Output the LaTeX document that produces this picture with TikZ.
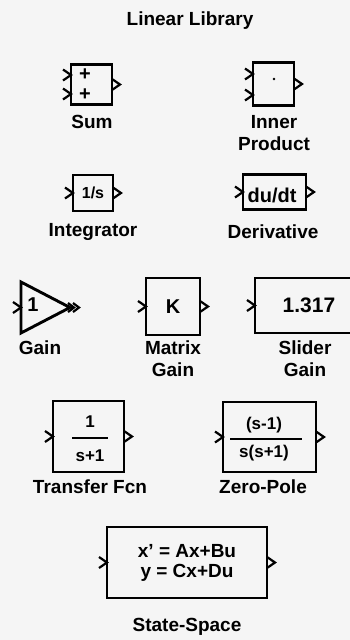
\documentclass[tikz,border=0pt]{standalone}
\usepackage{fontspec}
\setmainfont{Liberation Sans}

\begin{document}
\begin{tikzpicture}[x=1pt, y=-1pt,
    blk/.style={draw, line width=2.9pt, inner sep=0pt, outer sep=0pt},
    port/.style={line width=2.2pt, line join=miter},
    lbl/.style={font=\fontsize{19}{22}\selectfont\bfseries, align=center},
    txt/.style={font=\fontsize{20}{20}\selectfont\bfseries, align=center, inner sep=0pt},
    small/.style={font=\fontsize{17}{17}\selectfont\bfseries, inner sep=0pt},
    chev/.pic={\draw[port] (-8,-5.5) -- (0,0) -- (-8,5.5);},
    chevs/.pic={\draw[port] (-6,-4.5) -- (0,0) -- (-6,4.5);}
  ]
    \useasboundingbox (0,0) rectangle (350,640);
    \fill[black!4] (0,0) rectangle (350,640);

    % title
    \node[lbl] (title) at (190,21) {Linear Library};

    % blocks
    \node[blk, minimum width=41pt, minimum height=40pt] (sum) at (91.5,84.5) {};
    \node[blk, minimum width=41pt, minimum height=43pt] (inner) at (273.5,84) {};
    \node[blk, minimum width=40pt, minimum height=36pt] (int) at (93,193) {};
    \node[blk, minimum width=63pt, minimum height=35pt] (deriv) at (274.5,192) {};
    \node[blk, minimum width=54pt, minimum height=57pt] (mgain) at (173,306.5) {};
    \node[blk, minimum width=107pt, minimum height=55pt] (slider) at (308.5,305.5) {};
    \node[blk, minimum width=71pt, minimum height=71pt] (tf) at (88.5,436.5) {};
    \node[blk, minimum width=93pt, minimum height=70pt] (zp) at (269.5,437) {};
    \node[blk, minimum width=160pt, minimum height=71pt] (ss) at (187,562.5) {};

    % gain triangle
    \coordinate (gainin) at (21,307.5);
    \coordinate (gainout) at (70,307.5);
    \draw[blk, line join=miter] (21,282) -- (gainout) -- (21,333) -- cycle;

    % block contents
    \node[txt] (plus1) at (85,75) {+};
    \node[txt] (plus2) at (85,95) {+};
    \fill (274,79) circle (1.4);
    \node[font=\fontsize{16}{16}\selectfont\bfseries, inner sep=0pt] (intk) at (int) {1/s};
    \node[txt] (derivk) at (272,195) {du/dt};
    \node[txt] (gaink) at (33,305) {1};
    \node[txt] (mgaink) at (mgain) {K};
    \node[txt, font=\fontsize{21}{21}\selectfont\bfseries] (sliderk) at (309,305) {1.317};
    \node[small] (tfnum) at (90,422) {1};
    \node[small] (tfden) at (90,456) {s+1};
    \draw[port] (72,438) -- (108,438);
    \node[small] (zpnum) at (264,425) {(s-1)};
    \node[small] (zpden) at (264,453) {s(s+1)};
    \draw[port] (230,439) -- (302,439);
    \node[txt, font=\fontsize{19}{20}\selectfont\bfseries] (ssk) at (ss) {x' = Ax+Bu\\y = Cx+Du};

    % input ports
    \pic at (sum.west |- 0,75) {chev};
    \pic at (sum.west |- 0,94) {chev};
    \pic at (inner.west |- 0,74) {chev};
    \pic at (inner.west |- 0,95) {chev};
    \pic at (int.west) {chev};
    \pic at (deriv.west) {chev};
    \pic at (gainin) {chev};
    \pic at (mgain.west) {chev};
    \pic at (slider.west) {chev};
    \pic at (tf.west) {chev};
    \pic at (zp.west) {chev};
    \pic at (ss.west) {chev};

    % output ports
    \pic at ([xshift=8pt]sum.east) {chev};
    \pic at ([xshift=8pt]inner.east) {chev};
    \pic at ([xshift=8pt]int.east) {chev};
    \pic at ([xshift=8pt]deriv.east) {chev};
    \pic at ([xshift=4pt]gainout) {chevs};
    \pic at ([xshift=9pt]gainout) {chevs};
    \pic at ([xshift=8pt]mgain.east) {chev};
    \pic at ([xshift=8pt]tf.east) {chev};
    \pic at ([xshift=8pt]zp.east) {chev};
    \pic at ([xshift=8pt]ss.east) {chev};

    % labels
    \node[lbl] (sumlbl) at (92,122) {Sum};
    \node[lbl] (innerlbl) at (274,133) {Inner\\Product};
    \node[lbl] (intlbl) at (93,232) {Integrator};
    \node[lbl] (derivlbl) at (273,232) {Derivative};
    \node[lbl] (gainlbl) at (40,348) {Gain};
    \node[lbl] (mgainlbl) at (173,359) {Matrix\\Gain};
    \node[lbl] (sliderlbl) at (305,359) {Slider\\Gain};
    \node[lbl] (tflbl) at (90,487) {Transfer Fcn};
    \node[lbl] (zplbl) at (263,487) {Zero-Pole};
    \node[lbl] (sslbl) at (187,627) {State-Space};
\end{tikzpicture}
\end{document}
